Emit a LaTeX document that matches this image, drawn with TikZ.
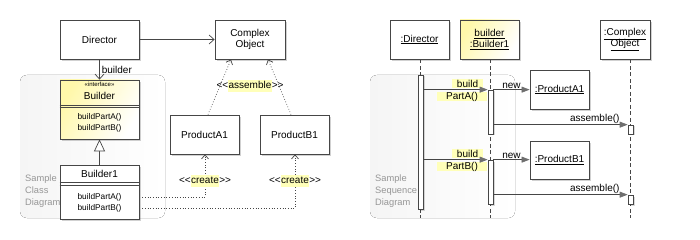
\documentclass[tikz,border=0pt]{standalone}
\usepackage{fontspec}
\setmainfont{Liberation Sans}
\usetikzlibrary{arrows.meta,shadows,calc}
\definecolor{ln}{RGB}{70,70,70}
\definecolor{hl}{RGB}{255,255,185}
\definecolor{yel}{RGB}{255,248,170}
\definecolor{panel}{RGB}{245,245,245}
\definecolor{gtxt}{RGB}{150,150,150}
\definecolor{tip}{RGB}{110,110,110}
\newcommand{\lt}{<\kern0pt<\kern0pt}
\newcommand{\gt}{\kern0pt>\kern0pt>}
\setlength{\fboxsep}{0.4pt}
\begin{document}
\begin{tikzpicture}[x=1pt,y=-1pt,
  font=\fontsize{10}{11.5}\selectfont,
  box/.style={draw=ln,line width=0.8pt,fill=white,inner sep=0pt,
     drop shadow={shadow xshift=2pt,shadow yshift=-2pt,opacity=0.18,fill=black}},
  ybox/.style={box,left color=yel,right color=white,shading angle=60},
  lbl/.style={inner sep=0pt,text=black},
  ops/.style={inner sep=0pt,font=\fontsize{8.3}{9}\selectfont},
  hlbox/.style={fill=hl,inner sep=0pt,minimum height=9pt},
  assoc/.style={draw=ln,line width=0.7pt,-{Straight Barb[length=5pt,width=9pt]}},
  dep/.style={draw=ln,line width=0.7pt,dotted,-{Straight Barb[length=4pt,width=7pt]}},
  inh/.style={draw=ln,line width=0.7pt,-{Triangle[open,length=12pt,width=11pt,fill=white]}},
  lifeline/.style={draw=ln,line width=0.7pt,dash pattern=on 4pt off 2.5pt},
  actbar/.style={draw=ln,line width=0.7pt,fill=white,minimum width=5pt,inner sep=0pt,
     drop shadow={shadow xshift=1.5pt,shadow yshift=-1.5pt,opacity=0.15,fill=black}},
  msg/.style={draw=ln,line width=0.7pt,-{Triangle[length=8pt,width=6pt,fill=tip,color=tip]}},
  panellbl/.style={text=gtxt,align=left,anchor=north west,inner sep=0pt,
     font=\fontsize{9.3}{12}\selectfont}
]
\useasboundingbox (0,0) rectangle (700,240);
% ---- panels
\fill[left color=panel,right color=white,rounded corners=7pt] (20,75) rectangle (165,218);
\fill[left color=panel,right color=white,rounded corners=7pt] (370,75) rectangle (515,218);
\node[panellbl] (pl1) at (25,174.5) {Sample\\Class\\Diagram};
\node[panellbl] (pl2) at (375,174.5) {Sample\\Sequence\\Diagram};

% ================= class diagram
\node[box,minimum width=79pt,minimum height=39pt] (director) at (99.5,39.5) {Director};
\node[box,minimum width=70pt,minimum height=39pt,align=center] (complex) at (250,39.5) {Complex\\Object};
\node[ybox,minimum width=79pt,minimum height=59pt] (builder) at (99.5,109.5) {};
\node[lbl,font=\fontsize{6}{7}\selectfont] (bst) at (99.5,84.5) {«interface»};
\node[lbl] (bname) at (99.5,95.5) {Builder};
\draw[ln,line width=0.6pt] (builder.west |- 0,105) -- (builder.east |- 0,105);
\draw[ln,line width=0.6pt] (builder.west |- 0,107.5) -- (builder.east |- 0,107.5);
\node[ops] (bA) at (99.5,117) {buildPartA()};
\node[ops] (bB) at (99.5,128) {buildPartB()};

\node[box,minimum width=79pt,minimum height=54pt] (builder1) at (99.5,192) {};
\node[lbl] (b1name) at (99.5,173.5) {Builder1};
\draw[ln,line width=0.6pt] (builder1.west |- 0,182.5) -- (builder1.east |- 0,182.5);
\draw[ln,line width=0.6pt] (builder1.west |- 0,185.5) -- (builder1.east |- 0,185.5);
\node[ops] (b1A) at (99.5,197) {buildPartA()};
\node[ops] (b1B) at (99.5,208.5) {buildPartB()};

\node[box,minimum width=69pt,minimum height=39pt] (pa1) at (204.5,134.5) {ProductA1};
\node[box,minimum width=69pt,minimum height=39pt] (pb1) at (294.5,134.5) {ProductB1};

\draw[assoc] (director.east) -- (complex.west);
\draw[assoc] (director.south) -- (builder.north) node[midway,right,lbl,xshift=2pt] (blbl) {builder};
\draw[inh] (builder1.north) -- (builder.south);

\coordinate (ca) at (231,59);
\coordinate (cb) at (268,59);
\coordinate (pat) at (208,115);
\coordinate (pbt) at (291,115);
\draw[dep] (pa1.north -| pat) -- (complex.south -| ca);
\draw[dep] (pb1.north -| pbt) -- (complex.south -| cb);
\node[lbl] (asl) at (250,86) {\lt\colorbox{hl}{\strut assemble}\gt};

\coordinate (ra) at (205,197);
\coordinate (rb) at (295,208);
\draw[dep] (builder1.east |- ra) -- (ra) -- (pa1.south -| ra);
\draw[dep] (builder1.east |- rb) -- (rb) -- (pb1.south -| rb);
\node[lbl] (cra) at (205,181) {\lt\colorbox{hl}{\strut create}\gt};
\node[lbl] (crb) at (295,181) {\lt\colorbox{hl}{\strut create}\gt};

% ================= sequence diagram
\node[box,minimum width=59pt,minimum height=39pt] (sdir) at (419.5,39.5) {\underline{:Director}};
\node[ybox,minimum width=59pt,minimum height=39pt,align=center] (sbld) at (489.5,39.5) {\underline{builder}\\\underline{:Builder1}};
\node[box,minimum width=50pt,minimum height=39pt,align=center] (scpx) at (625,39.5) {\underline{:Complex}\\\underline{Object}};

\coordinate (eD) at (420.5,218);
\coordinate (eB) at (490.5,218);
\coordinate (eC) at (630.5,218);
\draw[lifeline] (sdir.south -| eD) -- (eD);
\draw[lifeline] (sbld.south -| eB) -- (eB);
\draw[lifeline] (scpx.south -| eC) -- (eC);

\node[box,minimum width=59pt,minimum height=39pt] (spa) at (559.5,89.5) {\underline{:ProductA1}};
\node[box,minimum width=59pt,minimum height=38pt] (spb) at (559.5,160) {\underline{:ProductB1}};

\node[actbar,minimum height=134pt] (aD) at (420.5,142) {};
\node[actbar,minimum height=44pt] (aB1) at (490.5,112) {};
\node[actbar,minimum height=44pt] (aB2) at (490.5,182) {};
\node[actbar,minimum height=9pt] (aC1) at (630.5,129.5) {};
\node[actbar,minimum height=9pt] (aC2) at (630.5,199.5) {};

% labels with highlight
\node[hlbox,minimum width=31pt] (l1a) at (467.5,83.5) {build};
\node[hlbox,minimum width=50pt] (l1b) at (462,96.5) {PartA()};
\node[hlbox,minimum width=31pt] (l2a) at (467.5,153.5) {build};
\node[hlbox,minimum width=50pt] (l2b) at (462,166.5) {PartB()};

\draw[msg] (aD.east |- aB1.north) -- (aB1.north west);
\draw[msg] (aB1.north east) -- (spa.west |- aB1.north) node[midway,above=1pt,lbl] (n1) {new};
\draw[msg] (aB1.east |- aC1.north) -- (aC1.north west) node[pos=0.755,above=1pt,lbl] (as1) {assemble()};

\draw[msg] (aD.east |- aB2.north) -- (aB2.north west);
\draw[msg] (aB2.north east) -- (spb.west |- aB2.north) node[midway,above=1pt,lbl] (n2) {new};
\draw[msg] (aB2.east |- aC2.north) -- (aC2.north west) node[pos=0.755,above=1pt,lbl] (as2) {assemble()};
\end{tikzpicture}
\end{document}
